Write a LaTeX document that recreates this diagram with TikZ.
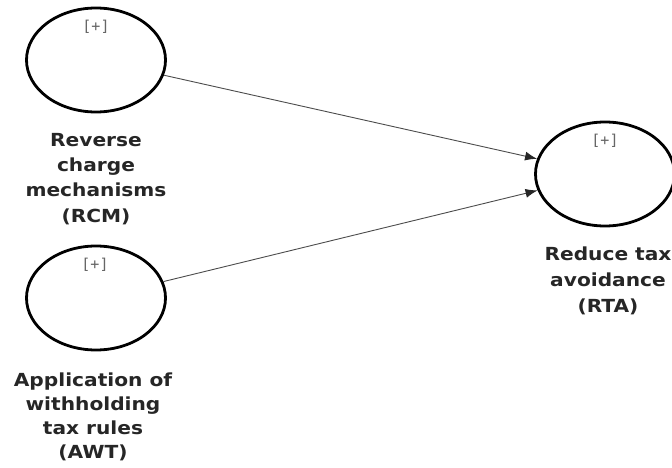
\documentclass[tikz,border=0pt]{standalone}
\usepackage{fontspec}
\usetikzlibrary{shapes.geometric,arrows.meta}
\newfontfamily\lblfont[FakeStretch=1.12]{DejaVu Sans}
\newfontfamily\plusfont{DejaVu Sans Mono}
\begin{document}
\begin{tikzpicture}[x=1pt,y=-1pt,
  latent/.style={ellipse, draw=black, line width=2.8pt, minimum width=139pt, minimum height=104pt, inner sep=0pt},
  plus/.style={font=\plusfont\fontsize{15}{15}\selectfont, text=black!60, inner sep=0pt},
  lbl/.style={align=center, inner sep=0pt, anchor=base, text=black!85},
  conn/.style={draw=black!70, line width=0.9pt, -{Latex[length=12pt,width=9pt,color=black!85]}}]
\useasboundingbox[fill=white] (0,0) rectangle (672,468);
\node[latent] (rcm) at (96,60) {};
\node[latent] (awt) at (96,298) {};
\node[latent] (rta) at (605,174) {};
\node[plus] (rcmp) at (96,27) {[+]};
\node[plus] (awtp) at (95,265) {[+]};
\node[plus] (rtap) at (605,141) {[+]};
\node[lbl, font=\lblfont\bfseries\fontsize{18}{25.3}\selectfont] (rcml) at (96,222) {Reverse\\charge\\mechanisms\\(RCM)};
\node[lbl, font=\lblfont\bfseries\fontsize{18}{23.7}\selectfont] (awtl) at (93,458) {Application of\\withholding\\tax rules\\(AWT)};
\node[lbl, font=\lblfont\bfseries\fontsize{18}{26}\selectfont] (rtal) at (608,312) {Reduce tax\\avoidance\\(RTA)};
\draw[conn] (rcm) -- (rta);
\draw[conn] (awt) -- (rta);
\end{tikzpicture}
\end{document}
